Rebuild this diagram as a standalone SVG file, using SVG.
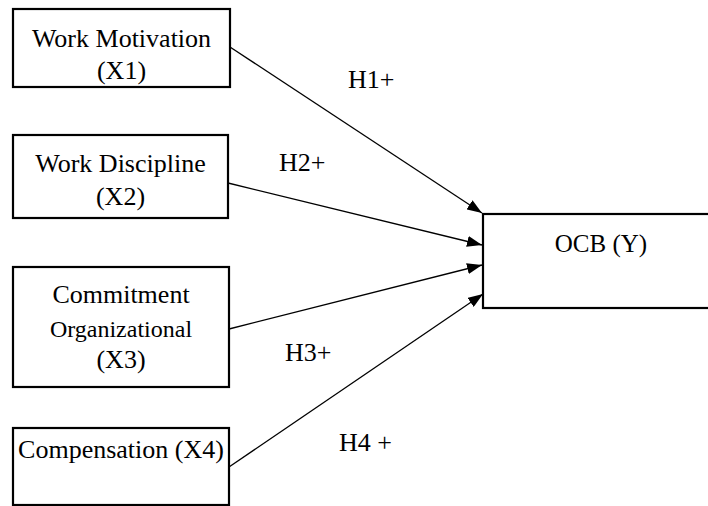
<svg xmlns="http://www.w3.org/2000/svg" width="708" height="506" viewBox="0 0 708 506">
  <style>
    .box { fill: #fff; stroke: #000; stroke-width: 2.2; }
    .t { font-family: "Liberation Serif", "Times New Roman", serif; font-size: 26px; fill: #000; text-anchor: middle; }
    .lbl { font-family: "Liberation Serif", "Times New Roman", serif; font-size: 26px; fill: #000; }
    .edge { stroke: #000; stroke-width: 1.3; fill: none; marker-end: url(#arrow); }
  </style>
  <defs>
    <marker id="arrow" markerUnits="userSpaceOnUse" markerWidth="15" markerHeight="11" refX="15" refY="5.5" orient="auto">
      <path d="M0,0 L15,5.5 L0,11 z" fill="#000"/>
    </marker>
  </defs>
  <rect width="708" height="506" fill="#fff"/>
  <g id="connectors">
    <line class="edge" x1="230" y1="47" x2="482" y2="213"/>
    <line class="edge" x1="228" y1="183" x2="482" y2="245"/>
    <line class="edge" x1="229" y1="329" x2="482" y2="265"/>
    <line class="edge" x1="229" y1="467" x2="483" y2="294"/>
    <text class="lbl" x="348" y="88">H1+</text>
    <text class="lbl" x="279" y="171">H2+</text>
    <text class="lbl" x="285" y="361">H3+</text>
    <text class="lbl" x="339" y="451">H4 +</text>
  </g>
  <g id="x1">
    <rect class="box" x="13" y="9" width="217" height="78"/>
    <text class="t" x="121.5" y="47">Work Motivation</text>
    <text class="t" x="121.5" y="79">(X1)</text>
  </g>
  <g id="x2">
    <rect class="box" x="13" y="135" width="215" height="83"/>
    <text class="t" x="120.5" y="172">Work Discipline</text>
    <text class="t" x="120.5" y="205">(X2)</text>
  </g>
  <g id="x3">
    <rect class="box" x="13" y="267" width="216" height="120"/>
    <text class="t" x="121" y="303">Commitment</text>
    <text class="t" x="121" y="337" style="font-size:24px">Organizational</text>
    <text class="t" x="121" y="368">(X3)</text>
  </g>
  <g id="x4">
    <rect class="box" x="13" y="428" width="216" height="77"/>
    <text class="t" x="121" y="458">Compensation (X4)</text>
  </g>
  <g id="y">
    <rect class="box" x="483" y="214" width="240" height="94"/>
    <text class="t" x="601" y="252" style="font-size:25px">OCB (Y)</text>
  </g>
</svg>
